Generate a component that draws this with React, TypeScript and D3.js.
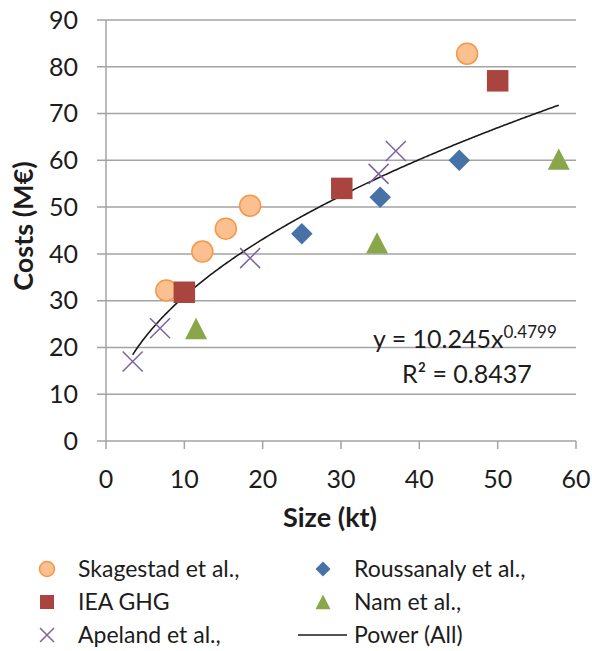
import React from 'react';
import * as d3 from 'd3';

const width = 592;
const height = 651;

// data: [size kt, cost M€]
const skagestad = [[7.7, 32.2], [12.3, 40.5], [15.3, 45.4], [18.4, 50.3], [46.1, 82.8]];
const ieaGhg = [[10.0, 31.8], [30.1, 54.0], [50.0, 77.0]];
const apeland = [[3.4, 17.0], [6.9, 24.1], [18.4, 39.1], [34.8, 57.1], [37.0, 62.0]];
const roussanaly = [[25.0, 44.3], [35.0, 52.1], [45.1, 60.0]];
const nam = [[11.5, 24.0], [34.6, 42.3], [57.8, 60.2]];

const xTicks = [0, 10, 20, 30, 40, 50, 60];
const yTicks = [0, 10, 20, 30, 40, 50, 60, 70, 80, 90];

// trendline given on the chart: y = 10.245 x^0.4799
const fitA = 10.245;
const fitB = 0.4799;
const fitRange = [3.4, 57.8];

const font = 'Lato, "Open Sans", sans-serif';

const x = d3.scaleLinear().domain([0, 60]).range([106, 576]);
const y = d3.scaleLinear().domain([0, 90]).range([441, 20]);

// custom marker shapes (size = width in px)
const triangle = {
  draw(ctx: any, s: number) {
    const h = s / 2;
    ctx.moveTo(0, -h);
    ctx.lineTo(h, h * 0.95);
    ctx.lineTo(-h, h * 0.95);
    ctx.closePath();
  },
};
const diamond = {
  draw(ctx: any, s: number) {
    const h = s / 2;
    ctx.moveTo(0, -h);
    ctx.lineTo(h, 0);
    ctx.lineTo(0, h);
    ctx.lineTo(-h, 0);
    ctx.closePath();
  },
};
const square = {
  draw(ctx: any, s: number) {
    const h = s / 2;
    ctx.rect(-h, -h, s, s);
  },
};
const circle = {
  draw(ctx: any, s: number) {
    const h = s / 2;
    ctx.moveTo(h, 0);
    ctx.arc(0, 0, h, 0, 2 * Math.PI);
  },
};
const cross = {
  draw(ctx: any, s: number) {
    const h = s / 2;
    ctx.moveTo(-h, -h);
    ctx.lineTo(h, h);
    ctx.moveTo(-h, h);
    ctx.lineTo(h, -h);
  },
};

const series = [
  { name: 'Skagestad et al.,', data: skagestad, type: circle, size: 21, legendSize: 15, fill: '#FAC090', stroke: '#F79646', sw: 1.5 },
  { name: 'IEA GHG', data: ieaGhg, type: square, size: 21.5, legendSize: 14, fill: '#A9443F', stroke: 'none', sw: 0 },
  { name: 'Apeland et al.,', data: apeland, type: cross, size: 20, legendSize: 14, fill: 'none', stroke: '#7E63A0', sw: 1.5 },
  { name: 'Roussanaly et al.,', data: roussanaly, type: diamond, size: 21.5, legendSize: 15, fill: '#4672A8', stroke: 'none', sw: 0 },
  { name: 'Nam et al.,', data: nam, type: triangle, size: 22, legendSize: 15, fill: '#8AA64A', stroke: 'none', sw: 0 },
];

const legendCols = [47, 323];
const legendRows = [569, 602, 635];

export default function App() {
  const sym = (type: any, s: number) => d3.symbol().type(type).size(s)() as string;

  const fitPts = d3.range(fitRange[0], fitRange[1] + 0.01, 0.2).map(v => [v, fitA * Math.pow(v, fitB)]);
  fitPts[fitPts.length - 1] = [fitRange[1], fitA * Math.pow(fitRange[1], fitB)];
  const line = d3.line<number[]>().x(d => x(d[0])).y(d => y(d[1])).curve(d3.curveLinear);

  const grid = '#A3A3A3';
  const ink = '#1c1c1c';

  return (
    <svg width={width} height={height} style={{ position: 'absolute', left: 0, top: 0, background: '#fff' }}>
      {/* gridlines + y ticks */}
      {yTicks.map(t => (
        <line key={t} x1={97} x2={x(60)} y1={y(t)} y2={y(t)} stroke={grid} strokeWidth={1.5} />
      ))}
      <line x1={x(0)} x2={x(0)} y1={y(90)} y2={y(0)} stroke={grid} strokeWidth={1.5} />
      {xTicks.map(t => (
        <line key={t} x1={x(t)} x2={x(t)} y1={y(0)} y2={y(0) + 8} stroke={grid} strokeWidth={1.5} />
      ))}

      {yTicks.map(t => (
        <text key={t} x={78} y={y(t)} dy="0.35em" textAnchor="end" fontFamily={font} fontSize={25} fill={ink}>
          {t}
        </text>
      ))}
      {xTicks.map(t => (
        <text key={t} x={x(t)} y={488} textAnchor="middle" fontFamily={font} fontSize={25} fill={ink}>
          {t}
        </text>
      ))}

      <text transform="translate(33, 226) rotate(-90)" textAnchor="middle" fontFamily={font} fontSize={27} fontWeight="bold" fill={ink}>
        Costs (M€)
      </text>
      <text x={330} y={527} textAnchor="middle" fontFamily={font} fontSize={27} fontWeight="bold" fill={ink}>
        Size (kt)
      </text>

      {/* trendline */}
      <path d={line(fitPts) as string} fill="none" stroke="#1a1a1a" strokeWidth={1.6} />

      {series.map(s => (
        <g key={s.name}>
          {s.data.map((d, i) => (
            <path key={i} d={sym(s.type, s.size)} transform={`translate(${x(d[0])},${y(d[1])})`}
              fill={s.fill} stroke={s.stroke} strokeWidth={s.sw} />
          ))}
        </g>
      ))}

      {/* equation */}
      <text x={373} y={348} fontFamily={font} fontSize={25} fill={ink}>
        y = 10.245x<tspan dy={-10} fontSize={17}>0.4799</tspan>
      </text>
      <text x={402} y={383} fontFamily={font} fontSize={25} fill={ink}>
        R² = 0.8437
      </text>

      {/* legend */}
      {series.map((s, i) => {
        const col = i < 3 ? 0 : 1;
        const row = i < 3 ? i : i - 3;
        const cx = legendCols[col];
        const cy = legendRows[row];
        return (
          <g key={s.name}>
            <path d={sym(s.type, s.legendSize)} transform={`translate(${cx},${cy})`}
              fill={s.fill} stroke={s.stroke} strokeWidth={s.sw} />
            <text x={cx + 31} y={cy + 8} fontFamily={font} fontSize={23} fill={ink}>{s.name}</text>
          </g>
        );
      })}
      <line x1={298} x2={347} y1={legendRows[2]} y2={legendRows[2]} stroke="#1a1a1a" strokeWidth={1.6} />
      <text x={354} y={legendRows[2] + 8} fontFamily={font} fontSize={23} fill={ink}>Power (All)</text>
    </svg>
  );
}
